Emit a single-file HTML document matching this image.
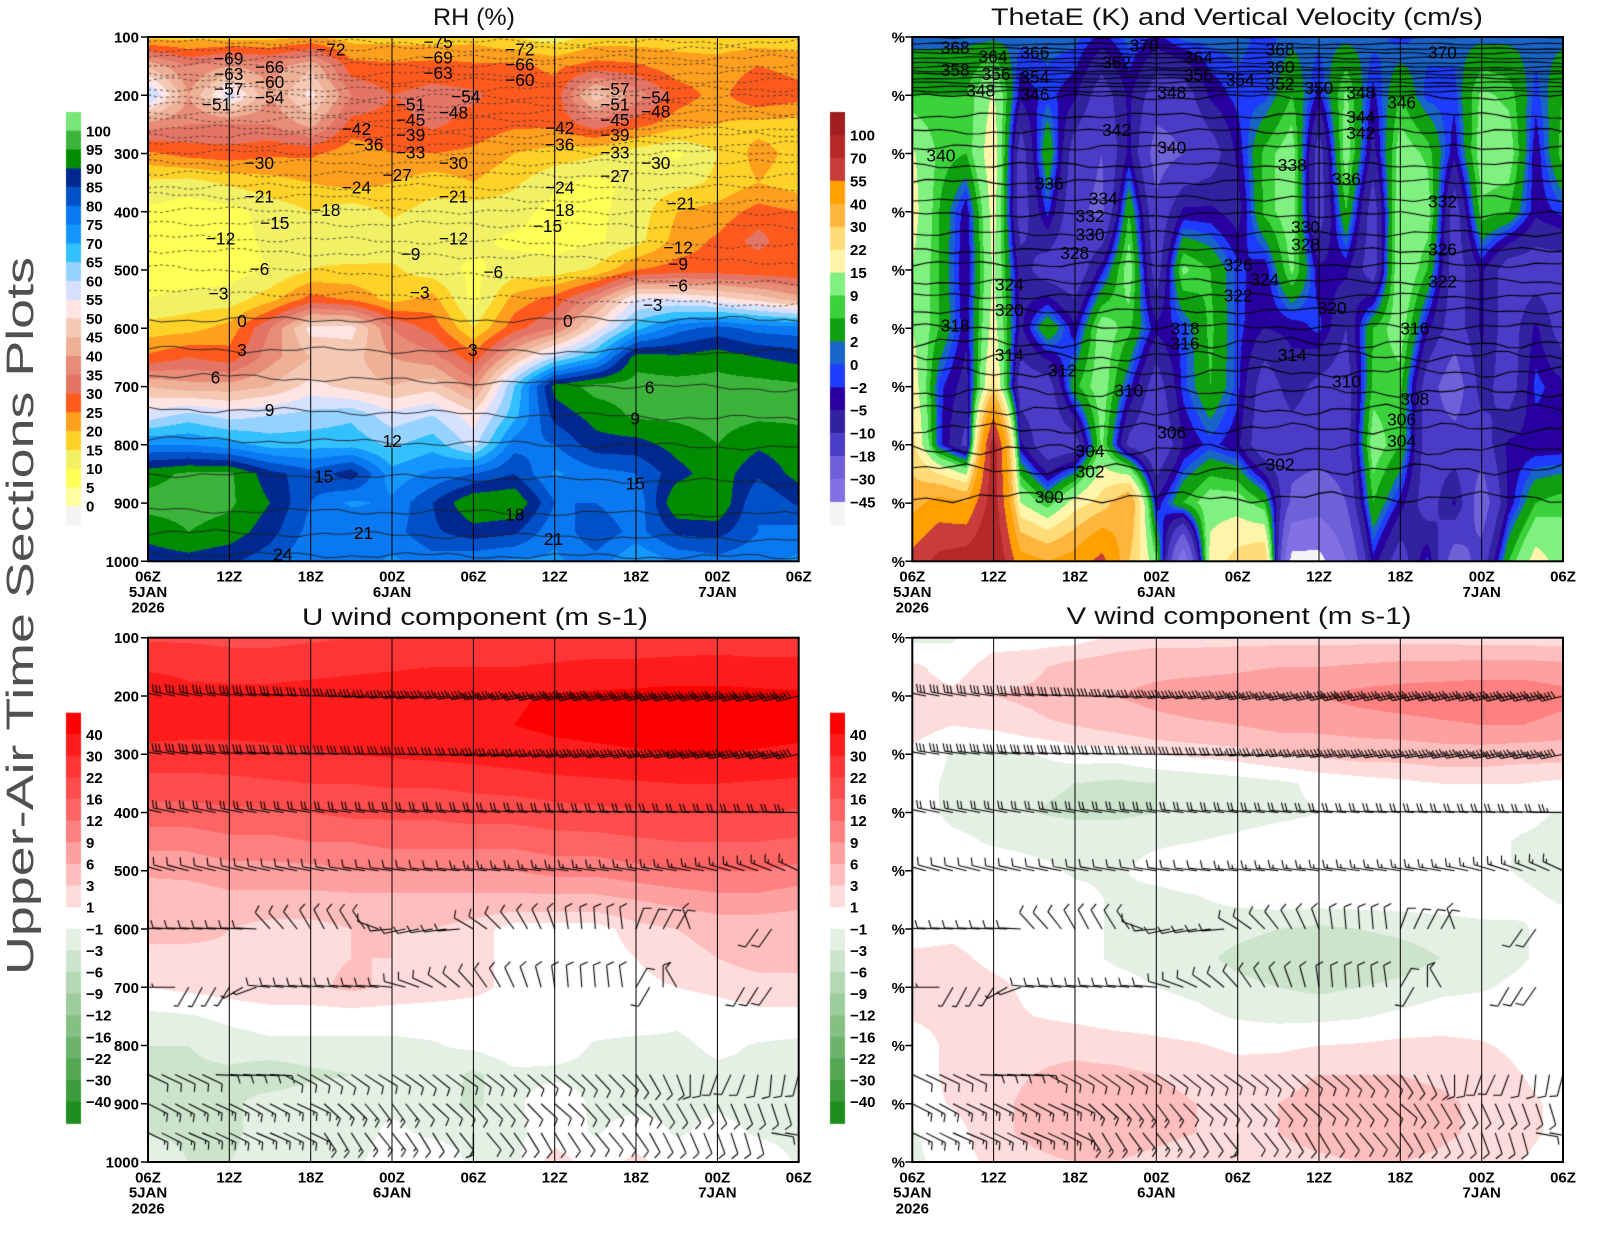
<!DOCTYPE html>
<html><head><meta charset="utf-8">
<style>
html,body{margin:0;padding:0;background:#fff;}
#wrap{position:relative;width:1600px;height:1236px;overflow:hidden;background:#fff;}
canvas,svg{position:absolute;left:0;top:0;}
text{font-family:"Liberation Sans",Arial,sans-serif;}
.ax{font-weight:bold;font-size:15px;fill:#000;}
.cl{font-size:17px;fill:#000;text-anchor:middle;}
.ti{font-size:24px;fill:#111;}
</style></head><body><div id="wrap">
<canvas id="cv" width="1600" height="1236"></canvas>
<svg width="1600" height="1236" xmlns="http://www.w3.org/2000/svg">
<!-- grid lines -->
<path d="M229.3 37V561.3M310.7 37V561.3M392 37V561.3M473.4 37V561.3M554.7 37V561.3M636 37V561.3M717.4 37V561.3
M993.6 37V561.3M1075 37V561.3M1156.3 37V561.3M1237.7 37V561.3M1319 37V561.3M1400.3 37V561.3M1481.7 37V561.3
M229.3 637.7V1162M310.7 637.7V1162M392 637.7V1162M473.4 637.7V1162M554.7 637.7V1162M636 637.7V1162M717.4 637.7V1162
M993.6 637.7V1162M1075 637.7V1162M1156.3 637.7V1162M1237.7 637.7V1162M1319 637.7V1162M1400.3 637.7V1162M1481.7 637.7V1162" stroke="#000" stroke-width="1" fill="none"/>
<!-- frames -->
<rect x="148" y="37" width="650.7" height="524.3" fill="none" stroke="#000" stroke-width="2"/>
<rect x="912.3" y="37" width="650.7" height="524.3" fill="none" stroke="#000" stroke-width="2"/>
<rect x="148" y="637.7" width="650.7" height="524.3" fill="none" stroke="#000" stroke-width="2"/>
<rect x="912.3" y="637.7" width="650.7" height="524.3" fill="none" stroke="#000" stroke-width="2"/>
<!-- ticks -->
<path d="M141 37H148M141 95.3H148M141 153.5H148M141 211.8H148M141 270H148M141 328.3H148M141 386.6H148M141 444.8H148M141 503.1H148M141 561.3H148
M905.3 37H912.3M905.3 95.3H912.3M905.3 153.5H912.3M905.3 211.8H912.3M905.3 270H912.3M905.3 328.3H912.3M905.3 386.6H912.3M905.3 444.8H912.3M905.3 503.1H912.3M905.3 561.3H912.3
M141 637.7H148M141 696H148M141 754.2H148M141 812.5H148M141 870.7H148M141 929H148M141 987.3H148M141 1045.5H148M141 1103.8H148M141 1162H148
M905.3 637.7H912.3M905.3 696H912.3M905.3 754.2H912.3M905.3 812.5H912.3M905.3 870.7H912.3M905.3 929H912.3M905.3 987.3H912.3M905.3 1045.5H912.3M905.3 1103.8H912.3M905.3 1162H912.3" stroke="#000" stroke-width="1.5"/>

<!-- titles -->
<text class="ti" x="474" y="25" text-anchor="middle" textLength="82" lengthAdjust="spacingAndGlyphs">RH (%)</text>
<text class="ti" x="1237" y="25" text-anchor="middle" textLength="492" lengthAdjust="spacingAndGlyphs">ThetaE (K) and Vertical Velocity (cm/s)</text>
<text class="ti" x="475" y="625" text-anchor="middle" textLength="346" lengthAdjust="spacingAndGlyphs">U wind component (m s-1)</text>
<text class="ti" x="1239" y="624" text-anchor="middle" textLength="345" lengthAdjust="spacingAndGlyphs">V wind component (m s-1)</text>
<text x="0" y="0" transform="translate(33,975) rotate(-90)" font-size="38" fill="#505050" textLength="718" lengthAdjust="spacingAndGlyphs">Upper-Air Time Sections Plots</text>

<!-- y labels left -->
<g class="ax" text-anchor="end">
<text x="139" y="42.5">100</text><text x="139" y="100.8">200</text><text x="139" y="159">300</text><text x="139" y="217.3">400</text><text x="139" y="275.5">500</text><text x="139" y="333.8">600</text><text x="139" y="392.1">700</text><text x="139" y="450.3">800</text><text x="139" y="508.6">900</text><text x="139" y="566.8">1000</text>
<text x="139" y="643.2">100</text><text x="139" y="701.5">200</text><text x="139" y="759.7">300</text><text x="139" y="818">400</text><text x="139" y="876.2">500</text><text x="139" y="934.5">600</text><text x="139" y="992.8">700</text><text x="139" y="1051">800</text><text x="139" y="1109.3">900</text><text x="139" y="1167.5">1000</text>
<text x="905" y="42.5">%</text><text x="905" y="100.8">%</text><text x="905" y="159">%</text><text x="905" y="217.3">%</text><text x="905" y="275.5">%</text><text x="905" y="333.8">%</text><text x="905" y="392.1">%</text><text x="905" y="450.3">%</text><text x="905" y="508.6">%</text><text x="905" y="566.8">%</text>
<text x="905" y="643.2">%</text><text x="905" y="701.5">%</text><text x="905" y="759.7">%</text><text x="905" y="818">%</text><text x="905" y="876.2">%</text><text x="905" y="934.5">%</text><text x="905" y="992.8">%</text><text x="905" y="1051">%</text><text x="905" y="1109.3">%</text><text x="905" y="1167.5">%</text>
</g>
<!-- x labels -->
<g class="ax" text-anchor="middle">
<text x="148" y="581.7">06Z</text><text x="148" y="597">5JAN</text><text x="148" y="612.7">2026</text>
<text x="229.3" y="581.7">12Z</text><text x="310.7" y="581.7">18Z</text><text x="392" y="581.7">00Z</text><text x="392" y="597">6JAN</text>
<text x="473.4" y="581.7">06Z</text><text x="554.7" y="581.7">12Z</text><text x="636" y="581.7">18Z</text><text x="717.4" y="581.7">00Z</text><text x="717.4" y="597">7JAN</text><text x="798.7" y="581.7">06Z</text>
<text x="912.3" y="581.7">06Z</text><text x="912.3" y="597">5JAN</text><text x="912.3" y="612.7">2026</text>
<text x="993.6" y="581.7">12Z</text><text x="1075" y="581.7">18Z</text><text x="1156.3" y="581.7">00Z</text><text x="1156.3" y="597">6JAN</text>
<text x="1237.7" y="581.7">06Z</text><text x="1319" y="581.7">12Z</text><text x="1400.3" y="581.7">18Z</text><text x="1481.7" y="581.7">00Z</text><text x="1481.7" y="597">7JAN</text><text x="1563" y="581.7">06Z</text>
<text x="148" y="1182.4">06Z</text><text x="148" y="1197.7">5JAN</text><text x="148" y="1213.4">2026</text>
<text x="229.3" y="1182.4">12Z</text><text x="310.7" y="1182.4">18Z</text><text x="392" y="1182.4">00Z</text><text x="392" y="1197.7">6JAN</text>
<text x="473.4" y="1182.4">06Z</text><text x="554.7" y="1182.4">12Z</text><text x="636" y="1182.4">18Z</text><text x="717.4" y="1182.4">00Z</text><text x="717.4" y="1197.7">7JAN</text><text x="798.7" y="1182.4">06Z</text>
<text x="912.3" y="1182.4">06Z</text><text x="912.3" y="1197.7">5JAN</text><text x="912.3" y="1213.4">2026</text>
<text x="993.6" y="1182.4">12Z</text><text x="1075" y="1182.4">18Z</text><text x="1156.3" y="1182.4">00Z</text><text x="1156.3" y="1197.7">6JAN</text>
<text x="1237.7" y="1182.4">06Z</text><text x="1319" y="1182.4">12Z</text><text x="1400.3" y="1182.4">18Z</text><text x="1481.7" y="1182.4">00Z</text><text x="1481.7" y="1197.7">7JAN</text><text x="1563" y="1182.4">06Z</text>
</g>
<!-- colorbar labels -->
<g class="ax">
<text x="86" y="136.3">100</text><text x="86" y="155">95</text><text x="86" y="173.8">90</text><text x="86" y="192.6">85</text><text x="86" y="211.4">80</text><text x="86" y="230.1">75</text><text x="86" y="248.9">70</text><text x="86" y="267.7">65</text><text x="86" y="286.4">60</text><text x="86" y="305.2">55</text><text x="86" y="324">50</text><text x="86" y="342.7">45</text><text x="86" y="361.5">40</text><text x="86" y="380.3">35</text><text x="86" y="399.1">30</text><text x="86" y="417.8">25</text><text x="86" y="436.6">20</text><text x="86" y="455.4">15</text><text x="86" y="474.1">10</text><text x="86" y="492.9">5</text><text x="86" y="511.7">0</text>
<text x="850" y="140.4">100</text><text x="850" y="163.4">70</text><text x="850" y="186.3">55</text><text x="850" y="209.3">40</text><text x="850" y="232.2">30</text><text x="850" y="255.1">22</text><text x="850" y="278.1">15</text><text x="850" y="301">9</text><text x="850" y="324">6</text><text x="850" y="346.9">2</text><text x="850" y="369.8">0</text><text x="850" y="392.8">−2</text><text x="850" y="415.7">−5</text><text x="850" y="438.7">−10</text><text x="850" y="461.6">−18</text><text x="850" y="484.5">−30</text><text x="850" y="507.5">−45</text>
<text x="86" y="739.8">40</text><text x="86" y="761.4">30</text><text x="86" y="783">22</text><text x="86" y="804.6">16</text><text x="86" y="826.2">12</text><text x="86" y="847.9">9</text><text x="86" y="869.5">6</text><text x="86" y="891.1">3</text><text x="86" y="912.7">1</text><text x="86" y="934.3">−1</text><text x="86" y="955.9">−3</text><text x="86" y="977.5">−6</text><text x="86" y="999.1">−9</text><text x="86" y="1020.7">−12</text><text x="86" y="1042.3">−16</text><text x="86" y="1064">−22</text><text x="86" y="1085.6">−30</text><text x="86" y="1107.2">−40</text>
<text x="850" y="739.8">40</text><text x="850" y="761.4">30</text><text x="850" y="783">22</text><text x="850" y="804.6">16</text><text x="850" y="826.2">12</text><text x="850" y="847.9">9</text><text x="850" y="869.5">6</text><text x="850" y="891.1">3</text><text x="850" y="912.7">1</text><text x="850" y="934.3">−1</text><text x="850" y="955.9">−3</text><text x="850" y="977.5">−6</text><text x="850" y="999.1">−9</text><text x="850" y="1020.7">−12</text><text x="850" y="1042.3">−16</text><text x="850" y="1064">−22</text><text x="850" y="1085.6">−30</text><text x="850" y="1107.2">−40</text>
</g>
<!-- RH contour labels (display coords) -->
<g class="cl" transform="matrix(1.0215,0,0,1.022,-1.139,-0.814)">
<text x="225" y="64">−69</text><text x="265" y="72">−66</text><text x="225" y="79">−63</text><text x="265" y="87">−60</text><text x="225" y="94">−57</text><text x="265" y="102">−54</text><text x="213" y="109">−51</text><text x="325" y="55">−72</text><text x="350" y="133">−42</text><text x="362" y="148">−36</text><text x="255" y="166">−30</text><text x="350" y="190">−24</text><text x="255" y="199">−21</text><text x="320" y="212">−18</text><text x="270" y="225">−15</text><text x="217" y="240">−12</text><text x="255" y="270">−6</text><text x="215" y="294">−3</text><text x="238" y="321">0</text><text x="238" y="349">3</text><text x="212" y="376">6</text><text x="265" y="408">9</text><text x="385" y="438">12</text><text x="318" y="473">15</text><text x="357" y="528">21</text><text x="278" y="549">24</text>
<text x="430" y="48">−75</text><text x="430" y="63">−69</text><text x="430" y="78">−63</text><text x="403" y="109">−51</text><text x="403" y="124">−45</text><text x="403" y="139">−39</text><text x="403" y="156">−33</text><text x="390" y="178">−27</text><text x="457" y="101">−54</text><text x="445" y="117">−48</text><text x="445" y="166">−30</text><text x="445" y="199">−21</text><text x="445" y="240">−12</text><text x="403" y="255">−9</text><text x="412" y="293">−3</text><text x="484" y="273">−6</text><text x="464" y="349">3</text><text x="505" y="510">18</text><text x="510" y="55">−72</text><text x="510" y="70">−66</text><text x="510" y="85">−60</text><text x="549" y="132">−42</text><text x="549" y="148">−36</text><text x="549" y="190">−24</text><text x="549" y="212">−18</text><text x="537" y="228">−15</text><text x="557" y="321">0</text><text x="543" y="534">21</text>
<text x="603" y="94">−57</text><text x="603" y="109">−51</text><text x="603" y="124">−45</text><text x="603" y="139">−39</text><text x="603" y="156">−33</text><text x="603" y="179">−27</text><text x="643" y="102">−54</text><text x="643" y="116">−48</text><text x="643" y="166">−30</text><text x="668" y="206">−21</text><text x="665" y="249">−12</text><text x="665" y="265">−9</text><text x="665" y="286">−6</text><text x="640" y="305">−3</text><text x="637" y="386">6</text><text x="623" y="416">9</text><text x="623" y="480">15</text>
</g>
<!-- ThetaE contour labels (display coords) -->
<g class="cl" transform="matrix(1.0215,0,0,1.022,0.1,-0.814)">
<text x="935" y="53">368</text><text x="972" y="62">364</text><text x="1013" y="58">366</text><text x="1120" y="51">370</text><text x="1173" y="63">364</text><text x="1253" y="55">368</text><text x="1253" y="72">360</text><text x="1093" y="68">362</text><text x="1412" y="58">370</text>
<text x="935" y="75">358</text><text x="975" y="79">356</text><text x="1013" y="82">354</text><text x="1173" y="80">356</text><text x="1214" y="85">354</text><text x="1253" y="89">352</text><text x="1291" y="93">350</text><text x="1332" y="97">348</text><text x="1372" y="107">346</text><text x="960" y="95">348</text><text x="1013" y="99">346</text><text x="1147" y="97">348</text>
<text x="1332" y="121">344</text><text x="1332" y="137">342</text><text x="1093" y="134">342</text><text x="1147" y="151">340</text><text x="921" y="159">340</text><text x="1265" y="168">338</text><text x="1027" y="186">336</text><text x="1318" y="182">336</text><text x="1080" y="201">334</text><text x="1067" y="218">332</text><text x="1067" y="236">330</text><text x="1052" y="254">328</text><text x="1412" y="204">332</text><text x="1278" y="229">330</text><text x="1278" y="246">328</text><text x="1212" y="266">326</text><text x="1238" y="280">324</text><text x="1212" y="296">322</text><text x="1412" y="251">326</text><text x="1412" y="282">322</text>
<text x="988" y="285">324</text><text x="988" y="310">320</text><text x="935" y="325">318</text><text x="988" y="354">314</text><text x="1040" y="369">312</text><text x="1105" y="389">310</text><text x="1160" y="328">318</text><text x="1160" y="343">316</text><text x="1265" y="354">314</text><text x="1304" y="308">320</text><text x="1385" y="328">316</text><text x="1318" y="380">310</text><text x="1385" y="397">308</text><text x="1372" y="417">306</text><text x="1372" y="438">304</text><text x="1147" y="430">306</text><text x="1067" y="448">304</text><text x="1067" y="468">302</text><text x="1253" y="461">302</text><text x="1027" y="493">300</text>
</g>
</svg>
</div>
<script>
(function(){
const cv=document.getElementById('cv');const ctx=cv.getContext('2d');
function hex(h){return [parseInt(h.slice(1,3),16),parseInt(h.slice(3,5),16),parseInt(h.slice(5,7),16)];}
function render(x0,y0,w,h,grid,levels,colors){
  const ny=grid.length,nx=grid[0].length;const cols=colors.map(hex);
  const img=ctx.createImageData(w,h);const d=img.data;
  for(let j=0;j<h;j++){
    const v=(j+0.5)/h*(ny-1);let j0=Math.floor(v);if(j0>ny-2)j0=ny-2;const fy=v-j0;
    const r0=grid[j0],r1=grid[j0+1];
    for(let i=0;i<w;i++){
      const u=(i+0.5)/w*(nx-1);let i0=Math.floor(u);if(i0>nx-2)i0=nx-2;const fx=u-i0;
      const val=(r0[i0]*(1-fx)+r0[i0+1]*fx)*(1-fy)+(r1[i0]*(1-fx)+r1[i0+1]*fx)*fy;
      let k=0;while(k<levels.length&&val>=levels[k])k++;
      const c=cols[k];const o=(j*w+i)*4;d[o]=c[0];d[o+1]=c[1];d[o+2]=c[2];d[o+3]=255;
    }
  }
  ctx.putImageData(img,x0,y0);
}
const rhL=[0,5,10,15,20,25,30,35,40,45,50,55,60,65,70,75,80,85,90,95,100];
const rhC=['#f4f4f4','#ffffa0','#ffff55','#f2f064','#ffd228','#ff9f1e','#ff5a1e','#e47464','#e88c78','#eeb096','#f5c8b4','#ffe4e4','#d6e0ff','#96d2ff','#32c0ff','#1496ff','#0a78f0','#0050c8','#002890','#008c00','#3cb43c','#78e678'];
const thL=[-45,-30,-18,-10,-5,-2,0,2,6,9,15,22,30,40,55,70,100];
const thC=['#f4f4f4','#8270e6','#7060d8','#4b3cc8','#3222a0','#2800a0','#1e3cff','#1964c8','#0fa00f','#3cd23c','#80f080','#fff5a8','#ffdc78','#ffb43c','#ff9f00','#c83c3c','#b42828','#a01e1e'];
const uvL=[-40,-30,-22,-16,-12,-9,-6,-3,-1,1,3,6,9,12,16,22,30,40];
const uvC=['#1e8c1e','#3c9c3c','#54a854','#6cb46c','#84c084','#9ccc9c','#b4d8b4','#cce4cc','#e4f0e4','#ffffff','#ffdcdc','#ffbebe','#ffa0a0','#ff8080','#ff6464','#ff4c4c','#ff3535','#ff1c1c','#ff0000'];
const RH=[
[18,18,18,18,20,18,18,17,18,15,12,17,17,18,17,17,17],
[44,35,40,37,44,27,26,27,26,26,24,27,26,22,22,25,23],
[62,40,58,40,52,35,30,32,31,27,27,48,38,28,23,30,27],
[38,35,35,35,42,28,28,31,28,26,26,33,27,22,20,18,18],
[24,27,28,26,26,22,25,25,24,20,18,16,12,9,15,22,18],
[14,13,16,18,20,22,20,17,20,16,11,8,12,13,16,20,17],
[9,7,8,12,15,12,16,13,12,12,8,9,12,20,22,27,25],
[6,5,8,11,14,11,12,11,11,9,8,9,13,22,26,32,25],
[7,6,8,10,15,16,16,12,9,12,12,16,25,27,27,26,25],
[10,12,12,18,27,24,18,22,8,22,27,38,55,55,52,48,42],
[17,18,22,35,52,52,35,28,15,28,35,52,68,78,82,78,77],
[26,30,27,38,45,47,40,37,27,45,60,70,93,91,93,90,88],
[45,42,42,45,52,48,45,48,38,65,92,97,97,97,97,97,96],
[57,62,58,60,62,64,57,60,52,68,87,92,96,96,97,96,96],
[75,75,72,68,68,68,64,68,58,78,80,88,88,92,95,91,93],
[93,96,96,87,82,88,72,76,80,85,74,78,80,88,93,86,92],
[97,97,96,90,80,74,76,85,95,95,80,80,76,95,95,80,86],
[92,95,93,87,78,80,78,84,88,86,76,84,78,86,87,80,78],
[87,88,86,82,75,78,74,78,76,74,74,78,70,76,78,76,74]];
const TH=[
[1,1,1,1,1,1,1,-3,1,-3,1,1,1,-1,1,1,1,1,-1,1,1,1,1,1,1],
[6,6,6,16,-4,-1,-4,-14,-4,-14,-14,-4,-1,-1,6,-3,10,-3,6,-1,-1,10,8,-1,6],
[16,8,6,20,-14,6,-14,-18,-4,-22,-18,-14,-4,7,12,-14,12,-7,12,8,-4,12,12,-4,8],
[18,6,-4,18,-14,-1,-16,-20,6,-16,-4,-4,-7,7,12,-14,6,-14,14,12,-14,8,6,-4,-1],
[15,6,-5,16,-7,-14,-16,-3,12,-14,10,6,-1,-4,10,-4,-4,-14,15,6,-14,-4,-14,-14,-14],
[15,6,-4,18,-6,6,-4,12,7,-4,-1,7,-1,-5,-4,-1,-10,6,12,-4,-14,-4,-14,-4,-14],
[20,-1,-7,25,-14,-14,5,12,-1,-14,-1,6,-1,-14,-7,-12,-14,7,7,-14,-24,-7,-14,-1,-4],
[25,-1,-12,80,-4,-16,-14,10,-12,-18,-5,-1,-4,-16,-14,-14,-14,12,6,-14,-14,-14,-4,-4,-4],
[35,45,40,80,15,6,18,25,40,-4,6,12,12,6,-20,-24,-18,6,-3,-14,-4,-24,-4,6,8],
[60,75,80,90,45,40,45,60,30,10,-40,18,25,30,-50,-50,-30,-3,-14,-1,-24,-14,6,18,12]];
const U=[
[21,21,20,20,21,22,23,24,24,25,25,25,25,25,26,26,26],
[28,27,26,26,27,28,29,30,30,30,31,32,32,33,33,32,32],
[40,33,33,33,34,35,36,37,38,39,41,42,43,44,44,43,42],
[34,33,33,33,34,35,36,37,38,40,42,43,44,45,45,44,43],
[27,27,27,28,29,30,31,32,33,35,37,38,39,40,40,39,38],
[19,19,20,21,22,22,23,23,24,25,27,28,29,30,30,29,28],
[14,14,15,15,16,17,17,17,18,18,19,20,21,22,22,22,21],
[10,10,11,11,12,12,13,13,13,13,14,14,15,16,16,16,15],
[7,7,8,8,8,9,9,9,9,9,10,10,11,12,12,12,11],
[3,4,5,5,5,5,5,5,5,5,5,5,6,7,8,8,7],
[4,4,3,2,2,3,3,3,2,0,0,0,2,3,4,4,4],
[2,2,2.5,2.5,2.5,3,3,2.5,1.5,0.5,0,0,1,2,3,4,4],
[1,1.5,2,2.5,2.5,3.5,2.5,2,1.5,0.5,0,0,0.5,1,1.5,2,2],
[-1.5,-1.2,-0.5,0,0,0,0,0,0,0,0,0,0,-0.5,0,0.5,0.5],
[-3,-3,-2,-1.5,-1.5,-1.5,-1.5,-1.2,-0.5,0.5,0,-1.2,-1.5,-1.5,-0.5,-1.2,-1.5],
[-3.5,-3.5,-3.5,-4.5,-3.5,-3,-2,-1.5,-3.5,-1.5,-1.5,-1.5,-2,-2,-1.5,-1.5,-2],
[-3.5,-3.5,-3.5,-2,-1.5,-1.5,-1.5,-2,-3.5,-1.5,0.5,-1.5,-1.5,-1.5,-1.2,-1.5,-2],
[-3,-3.5,-3.5,-2,-2,-2,-0.5,-1.5,-2,-1.5,0,-1.2,0,-1.2,-0.5,-1.2,-1.5],
[-1.5,-3,-3,-2,-1.5,-1.5,0,1,-1.5,-1.5,2,0,1.5,0,-0.5,0,-1.2]];
const V=[
[-1.5,-1.2,0,0,0,1.5,2,2,2,2,2,2,2,2,1.5,1.5,1.5],
[1.5,0,2,2.5,4,4.5,5,5,5.5,6,6,6.5,7,7,7.5,7.5,7],
[2,1.5,3,3.5,5,6,7,8,8,9,9,10,10.5,11,11,11,10],
[2,1,1.5,2.5,3,4,5,5.5,6,7,7,7.5,8,8.5,9,9,8],
[0.5,-1.2,-1.5,-1,0,0,1,1.5,2,3,3.5,4,4,4.5,4.5,4,4],
[0,-1.5,-2,-2.5,-3,-3.5,-3,-2.5,-2,-1.5,-0.5,0,0.5,1,1,1,0.5],
[0,-1.5,-2,-3,-3.5,-3.5,-3,-2.5,-2,-1.5,-1,-0.5,0,0,0,-0.5,-1.2],
[0,-0.5,-1.2,-1.5,-1.5,-1.5,-1.2,-1,-0.5,0,0,0,0,0,-0.5,-1.2,-1.5],
[0,0,0,-0.5,-1.2,-1.2,-0.5,0,0,0,0,0,0,0,-0.5,-1.2,-2],
[0,0,0,0,-0.5,-1.2,-1.5,-1.2,-0.5,0,0,0,0,0,0,-0.5,-1.2],
[0,0.5,0,0,-0.5,-1.2,-1.5,-2,-2.5,-3,-3.5,-3,-2.5,-2,-1.5,-1.2,0],
[1.5,1.5,0.5,0,-0.5,-1.2,-1.5,-2.5,-3.5,-4,-5,-4.5,-4,-3,-2,-1.2,0],
[1.5,2,1.5,0.5,0,-0.5,-1,-1.5,-2.5,-3,-3.5,-3,-2.5,-1.5,-1.2,-0.5,0],
[1.2,1.5,1.5,1,0.5,0,0,-0.5,-1.2,-1.5,-1.5,-1.2,-0.5,0,0,0,0],
[0,1.5,2,2.5,2.5,2,1.5,1.2,0.5,0.5,1,1.2,1.5,1.5,1.2,0.5,0],
[0,1.5,2.5,3,3.5,3.5,3,2.5,2,2.5,3,3,3,2.5,2,1,0],
[0,1.2,2.5,3.5,4,4,3.5,3,2.5,3,3.5,4,4,3.5,2.5,1.5,0.5],
[-1.2,0,2.5,3.5,4.5,4,3.5,3,2.5,3,4,4.5,4.5,3.5,2.5,1.5,0.5],
[-1.5,0,1.5,2.5,3,3,2.5,2,1.5,2,2.5,3,3,2.5,1.5,1,0]];
render(148,37,651,524,RH,rhL,rhC);
render(912,37,651,524,TH,thL,thC);
render(148,638,651,524,U,uvL,uvC);
render(912,638,651,524,V,uvL,uvC);
function cbar(x,y,h,colors){const n=colors.length;for(let k=0;k<n;k++){ctx.fillStyle=colors[n-1-k];ctx.fillRect(x,y+k*h,15,h+0.6);}}
cbar(66,112,18.77,rhC);
cbar(830,112,22.94,thC);
cbar(66,712.7,21.61,uvC);
cbar(830,712.7,21.61,uvC);
const W=650.7,H=524.3;
function clipPanel(x0,y0){ctx.beginPath();ctx.rect(x0,y0,W,H);ctx.clip();}
const iso=[[-75,109,0],[-72,121,0],[-69,136,0],[-66,149,0],[-63,163,0],[-60,175,0],[-57,189,0],[-54,203,0],[-51,216,0],[-48,230,0],[-45,242,0],[-42,257,0],[-39,269,0],[-36,284,0],[-33,298,0],[-30,316,0],[-27,335,3],[-24,356,3],[-21,372,12],[-18,396,5],[-15,418,8],[-12,444,15],[-9,465,22],[-6,495,30],[-3,535,25],[0,585,0],[3,636,5],[6,680,25],[9,738,18],[12,790,15],[15,850,15],[18,912,8],[21,950,12],[24,988,5]];
ctx.save();clipPanel(148,37);
for(const [T,p0,tilt] of iso){
  ctx.beginPath();
  for(let t=0;t<=48;t+=1){
    const p=p0+tilt*t/48+3.5*Math.sin(t*0.55+T*1.3)+2.5*Math.sin(t*1.7+T*0.7);
    const x=148+t/48*W,y=37+(p-100)/900*H;
    if(t===0)ctx.moveTo(x,y);else ctx.lineTo(x,y);
  }
  if(T<0){ctx.setLineDash([3,3]);ctx.strokeStyle='#333';ctx.lineWidth=0.8;}
  else{ctx.setLineDash([]);ctx.strokeStyle='#222';ctx.lineWidth=0.9;}
  ctx.stroke();
}
ctx.restore();
const th=[[372,100],[370,112],[368,120],[366,128],[364,136],[362,144],[360,152],[358,158],[356,164],[354,171],[352,178],[350,186],[348,193],[346,203],[344,235],[342,262],[340,290],[338,320],[336,349],[334,377],[332,405],[330,437],[328,467],[326,490],[324,520],[322,545],[320,570],[318,597],[316,625],[314,648],[312,675],[310,709],[308,740],[306,772],[304,808],[302,842],[300,890]];
ctx.save();clipPanel(912.3,37);ctx.setLineDash([]);ctx.strokeStyle='#000';ctx.lineWidth=1.1;
for(const [T,p0] of th){
  const A=p0<200?2:(p0<600?6:10);
  ctx.beginPath();
  for(let t=0;t<=48;t+=1){
    const p=p0+A*(0.6*Math.sin(t*0.55+T*1.3)+0.4*Math.sin(t*1.7+T*0.7));
    const x=912.3+t/48*W,y=37+(p-100)/900*H;
    if(t===0)ctx.moveTo(x,y);else ctx.lineTo(x,y);
  }
  ctx.stroke();
}
ctx.restore();
function lerpKF(kf,t){for(let i=0;i<kf.length-1;i++){if(t<=kf[i+1][0]){const a=kf[i],b=kf[i+1];const f=(t-a[0])/(b[0]-a[0]);return [a[1]+(b[1]-a[1])*f,a[2]+(b[2]-a[2])*f];}}const l=kf[kf.length-1];return [l[1],l[2]];}
const a600=[183,183,183,183,183,183,183,183,183,228,228,232,240,242,240,238,236,200,175,168,168,170,172,175,210,215,225,232,240,245,250,262,265,266,265,263,290,295,298,300,250,null,null,null,null,125,125,null,null];
const a700=[180,180,180,120,118,120,122,150,160,185,185,185,185,185,185,185,185,185,185,195,200,205,215,220,228,235,240,245,250,255,262,265,266,265,264,262,300,120,270,240,null,null,null,null,120,122,125,null,null];
const a850=[],a900=[],a950=[];
const t850=[55,60,65,70,90],t850b=[100,110,115,110,100,95,100,105];
for(let t=0;t<=48;t++){
  a850.push(t<=4?25:t<=9?3:t<=35?30+15*(t-10)/25+3*Math.sin(t):t<=40?t850[t-36]:t850b[t-41]);
  a900.push(t<=12?27+2*Math.sin(t):t<=24?48+6*Math.sin(t*0.8):t<=36?45+4*Math.sin(t):55+20*(t-36)/12);
  a950.push(t<=12?25+2*Math.sin(t*1.3):t<=23?55+4*Math.sin(t):t===24?90:t<=36?55+5*Math.sin(t*0.7):t<=45?60+15*(t-36)/9:10);
}
const kfRow=kf=>t=>lerpKF(kf,t);
const arrRow=(arr,nf)=>t=>arr[t]==null?null:[arr[t],typeof nf==='function'?nf(t):nf];
const rows=[
 {p:200,f:kfRow([[0,192,3],[10,186,3],[18,174,4],[30,168,5],[48,166,5]])},
 {p:300,f:kfRow([[0,190,3],[18,181,3],[30,172,4],[48,168,5]])},
 {p:400,f:kfRow([[0,192,2],[30,185,2],[48,182,2.5]])},
 {p:500,f:kfRow([[0,196,1],[24,186,1.5],[40,190,1.5],[48,205,1.5]])},
 {p:600,f:arrRow(a600,1)},
 {p:700,f:arrRow(a700,t=>t<9?0.5:1)},
 {p:850,f:arrRow(a850,1)},
 {p:900,f:arrRow(a900,t=>t<20?1.5:1)},
 {p:950,f:arrRow(a950,t=>t<20?1.5:1)}];
function barb(x,y,angDeg,n){
  const a=angDeg*Math.PI/180,L=22,F=8,S=3.5;
  const dx=Math.cos(a),dy=Math.sin(a);const ex=x+L*dx,ey=y+L*dy;
  ctx.moveTo(x,y);ctx.lineTo(ex,ey);
  const fa=a+70*Math.PI/180,fx=Math.cos(fa),fy=Math.sin(fa);
  const full=Math.floor(n+0.01),half=(n-full)>=0.49;
  for(let i=0;i<full;i++){const px=ex-dx*S*i,py=ey-dy*S*i;ctx.moveTo(px,py);ctx.lineTo(px+F*fx,py+F*fy);}
  if(half){const px=ex-dx*S*full,py=ey-dy*S*full;ctx.moveTo(px,py);ctx.lineTo(px+F*0.5*fx,py+F*0.5*fy);}
}
function drawBarbs(X0,Y0){
  ctx.save();clipPanel(X0,Y0);ctx.setLineDash([]);ctx.strokeStyle='#000';ctx.lineWidth=1.1;
  ctx.beginPath();
  for(const r of rows){
    const y=Y0+(r.p-100)/900*H;
    for(let t=0;t<=48;t++){const s=r.f(t);if(!s)continue;barb(X0+t/48*W,y,s[0],s[1]);}
  }
  ctx.stroke();ctx.restore();
}
drawBarbs(148,637.7);
drawBarbs(912.3,637.7);
})();
</script>
</body></html>
